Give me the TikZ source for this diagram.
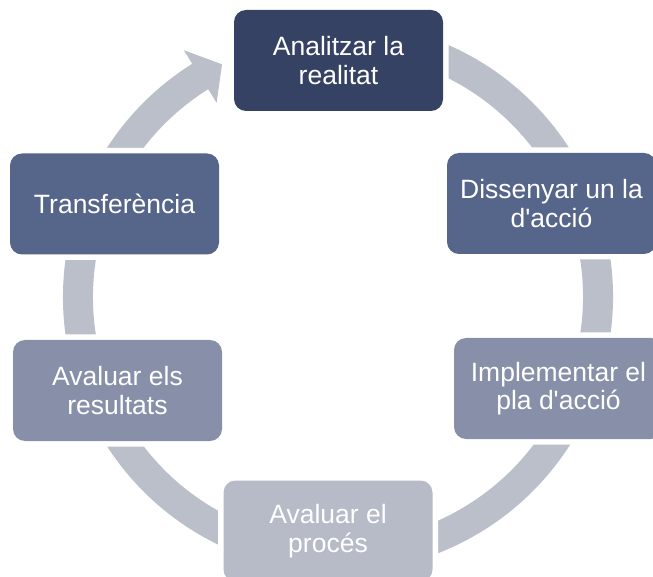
\documentclass[tikz,border=0pt]{standalone}
\usepackage{fontspec}
\setmainfont{Liberation Sans}
\definecolor{cA}{HTML}{364263}
\definecolor{cB}{HTML}{56658A}
\definecolor{cC}{HTML}{8790A8}
\definecolor{cD}{HTML}{B6BBC7}
\definecolor{ringc}{HTML}{BBBFCA}
\tikzset{
  stepbox/.style={rectangle, rounded corners=12pt, minimum width=209pt, minimum height=101pt,
    inner sep=0pt, align=center, text=white, font=\fontsize{26.5}{28.5}\selectfont,
    preaction={draw=white, line width=11pt}},
}
\begin{document}
\begin{tikzpicture}[x=1pt,y=1pt]
\useasboundingbox (0,0) rectangle (653,576);
\clip (0,0) rectangle (653,576);
\fill[white] (0,0) rectangle (653,576);
% ring with arrowhead
\begin{scope}[shift={(338,279)}]
\fill[ringc] (80:275) arc[start angle=80, end angle=-238, radius=275]
  -- (-238:291) -- (-243.5:260) -- (-238:229) -- (-238:245)
  arc[start angle=-238, end angle=80, radius=245] -- cycle;
\end{scope}
% boxes
\node[stepbox, fill=cA] (b1) at (338.5,515.5) {Analitzar la\\realitat};
\node[stepbox, fill=cB] (b2) at (551.5,372.5) {Dissenyar un la\\d\textquotesingle acció};
\node[stepbox, fill=cC] (b3) at (558.5,187.5) {Implementar el\\pla d\textquotesingle acció};
\node[stepbox, fill=cD] (b4) at (328,45) {Avaluar el\\procés};
\node[stepbox, fill=cC] (b5) at (117.5,185.5) {Avaluar els\\resultats};
\node[stepbox, fill=cB] (b6) at (114.5,372) {Transferència};
\end{tikzpicture}
\end{document}
